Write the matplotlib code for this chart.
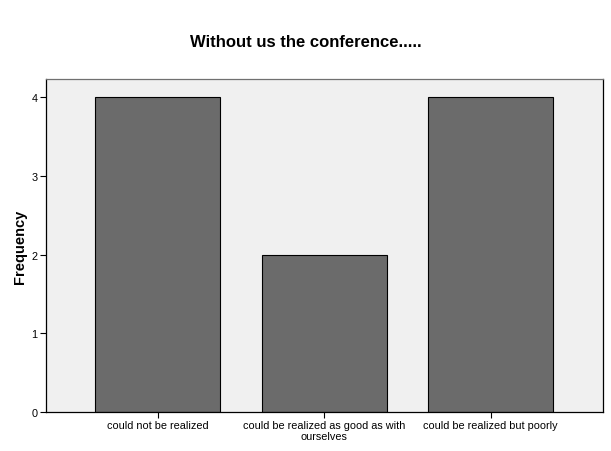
import numpy as np
import matplotlib.pyplot as plt

plt.rcParams['font.family'] = ['Liberation Sans', 'DejaVu Sans']

# Data
categories = ['could not be realized', 'could be realized as good as with\nourselves',
              'could be realized but poorly']
frequency = [4, 2, 4]
yticks = [0, 1, 2, 3, 4]

fig = plt.figure(figsize=(6.11, 4.52), dpi=100)
ax = fig.add_axes([0.0753, 0.0863, 0.9116, 0.7367])
ax.set_facecolor('#F0F0F0')

x = np.arange(len(categories))
ax.bar(x, frequency, width=0.75, color='#6B6B6B', edgecolor='black', linewidth=0.8)

ax.set_xlim(-0.67, 2.675)
ax.set_ylim(0, 4.23)
ax.set_xticks(x)
ax.set_xticklabels(categories, fontsize=7.8, linespacing=1.1)
ax.set_yticks(yticks)
ax.set_yticklabels([str(v) for v in yticks], fontsize=7.8)
ax.tick_params(axis='both', length=4, width=0.8, color='black', pad=2)

for s in ['left', 'bottom', 'right']:
    ax.spines[s].set_color('black')
    ax.spines[s].set_linewidth(0.9)
ax.spines['top'].set_color('#707070')
ax.spines['top'].set_linewidth(0.9)

ax.set_ylabel('Frequency', fontsize=10.5, fontweight='bold')
ax.yaxis.set_label_coords(-0.034, 0.5)
fig.text(0.5, 0.907, 'Without us the conference.....', ha='center', va='center',
         fontsize=12, fontweight='bold')

fig.savefig('out.png', dpi=100)
